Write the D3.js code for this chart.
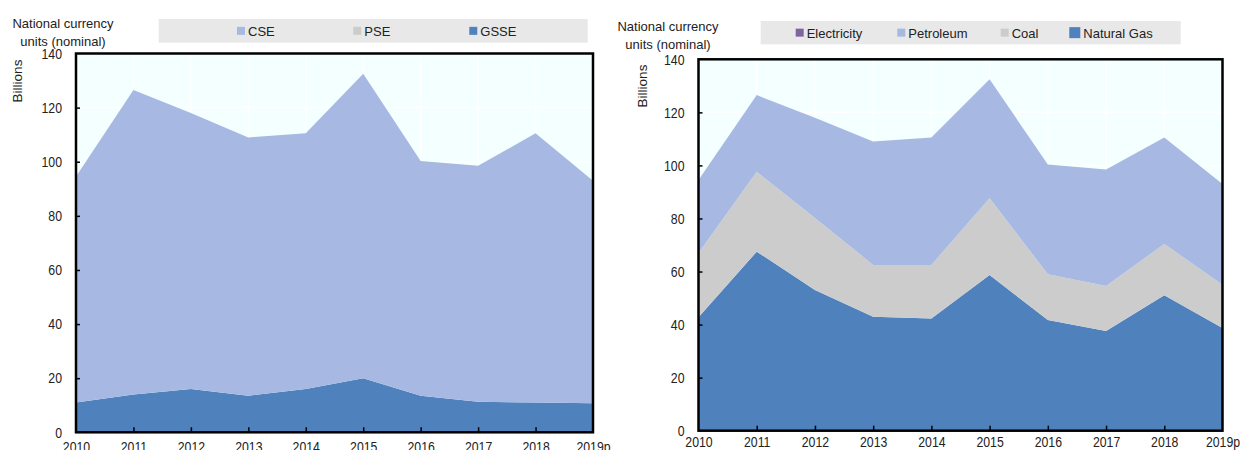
<!DOCTYPE html>
<html>
<head>
<meta charset="utf-8">
<script src="https://cdn.jsdelivr.net/npm/d3@7"></script>
<style>
    body { margin: 0; background: #fff; }
    svg { display: block; font-family: "Liberation Sans", Arial, sans-serif; }
    .tick line { stroke: #000; stroke-width: 1.5; }
    .domain { display: none; }
</style>
</head>
<body>
<div id="wrapper"></div>
<script>
// values (billions)
const years = ["2010", "2011", "2012", "2013", "2014", "2015", "2016", "2017", "2018", "2019p"];
const yTicks = [0, 20, 40, 60, 80, 100, 120, 140];

// left panel: support by recipient
const gsse = [11, 14, 16, 13.5, 16, 20, 13.5, 11.3, 11, 10.7];
const pse = [0, 0, 0, 0, 0, 0, 0, 0, 0, 0];
const cse = [83.5, 112.5, 102, 95.5, 94.5, 112.5, 86.8, 87.2, 99.5, 82.3];

// right panel: support by fuel
const naturalGas = [42.8, 67.5, 53, 43, 42.3, 58.7, 41.7, 37.6, 51.1, 38.7];
const coal = [24.2, 30.1, 27.2, 19.5, 20.2, 28.9, 17.3, 16.9, 19.3, 16.3];
const petroleum = [27.5, 28.9, 37.8, 46.5, 48, 44.9, 41.3, 44, 40.1, 38];
const electricity = [0, 0, 0, 0, 0, 0, 0, 0, 0, 0];

const colors = {
    CSE: "#a7b9e3", PSE: "#cccccc", GSSE: "#4f81bd",
    Electricity: "#8064a2", Petroleum: "#a7b9e3", Coal: "#cccccc", "Natural Gas": "#4f81bd"
};

let wSvg = 1243;
let hSvg = 450;

let svg = d3.select("#wrapper")
    .append("svg")
    .attr("width", wSvg)
    .attr("height", hSvg);

function drawPanel(p) {
    let g = svg.append("g");

    let xScale = d3.scalePoint().domain(years).range([p.x0, p.x1]);
    let yScale = d3.scaleLinear().domain([0, 140]).range([p.y1, p.y0]);

    // plot background
    g.append("rect")
        .attr("x", p.x0).attr("y", p.y0)
        .attr("width", p.x1 - p.x0).attr("height", p.y1 - p.y0)
        .attr("fill", "#f4ffff");

    // white grid
    g.selectAll(".vgrid").data(years).enter().append("line")
        .attr("x1", d => xScale(d)).attr("x2", d => xScale(d))
        .attr("y1", p.y0).attr("y2", p.y1)
        .attr("stroke", "#fff").attr("stroke-width", 1.5);
    g.selectAll(".hgrid").data(yTicks).enter().append("line")
        .attr("x1", p.x0).attr("x2", p.x1)
        .attr("y1", d => yScale(d)).attr("y2", d => yScale(d))
        .attr("stroke", "#fff").attr("stroke-width", 1.5);

    // stacked areas
    let table = years.map((yr, i) => {
        let row = { year: yr };
        p.series.forEach(s => { row[s.name] = s.values[i]; });
        return row;
    });
    let stacked = d3.stack().keys(p.series.map(s => s.name))(table);

    let area = d3.area()
        .x(d => xScale(d.data.year))
        .y0(d => yScale(d[0]))
        .y1(d => yScale(d[1]));

    g.selectAll(".layer").data(stacked).enter().append("path")
        .attr("d", area)
        .attr("fill", d => colors[d.key]);

    // axes
    let yAxis = g.append("g")
        .attr("transform", `translate(${p.x0},0)`)
        .call(d3.axisLeft(yScale).tickValues(yTicks).tickSize(-4).tickPadding(14));
    let xAxis = g.append("g")
        .attr("transform", `translate(0,${p.y1})`)
        .call(d3.axisBottom(xScale).tickSize(-5).tickPadding(p.labelPad));

    yAxis.selectAll("text")
        .attr("font-size", 15).attr("fill", "#222")
        .attr("transform", "scale(0.82,1)")
        .attr("x", -14 / 0.82);
    xAxis.selectAll("text")
        .attr("font-size", 15).attr("fill", "#222")
        .attr("transform", "scale(0.82,1)");
    xAxis.selectAll(".tick").filter(d => d === "2010" || d === "2019p").select("line").remove();
    yAxis.selectAll(".tick").filter(d => d === 0 || d === 140).select("line").remove();

    // frame
    g.append("rect")
        .attr("x", p.x0).attr("y", p.y0)
        .attr("width", p.x1 - p.x0).attr("height", p.y1 - p.y0)
        .attr("fill", "none").attr("stroke", "#000").attr("stroke-width", 2.5);

    // unit labels
    g.append("text")
        .attr("x", p.unitX).attr("y", p.unitY)
        .attr("text-anchor", "middle").attr("font-size", 13).attr("fill", "#222")
        .text("National currency");
    g.append("text")
        .attr("x", p.unitX).attr("y", p.unitY + 18)
        .attr("text-anchor", "middle").attr("font-size", 13).attr("fill", "#222")
        .text("units (nominal)");
    g.append("text")
        .attr("transform", `translate(${p.billX},${p.billY}) rotate(-90)`)
        .attr("text-anchor", "middle").attr("font-size", 13.5).attr("fill", "#222")
        .text("Billions");

    // legend
    g.append("rect")
        .attr("x", p.legX0).attr("y", p.legY0)
        .attr("width", p.legX1 - p.legX0).attr("height", p.legY1 - p.legY0)
        .attr("fill", "#e8e8e8");

    let legendItems = p.series.slice().reverse();
    legendItems.forEach((s, i) => {
        let lx = p.legX0 + p.legOffsets[i];
        let sz = s.box;
        let cy = (p.legY0 + p.legY1) / 2;
        g.append("rect")
            .attr("x", lx).attr("y", cy - sz / 2)
            .attr("width", sz).attr("height", sz)
            .attr("fill", colors[s.name]);
        g.append("text")
            .attr("x", lx + sz + 3).attr("y", cy + 5)
            .attr("font-size", 13).attr("fill", "#222")
            .text(s.name);
    });
}

drawPanel({
    x0: 76, x1: 593, y0: 53.5, y1: 432.3, labelPad: 9,
    series: [
        { name: "GSSE", values: gsse, box: 8 },
        { name: "PSE", values: pse, box: 8 },
        { name: "CSE", values: cse, box: 8 }
    ],
    unitX: 63, unitY: 28, billX: 22, billY: 81,
    legX0: 158.7, legX1: 587.7, legY0: 19, legY1: 42.7,
    legOffsets: [78.3, 194.6, 310.6]
});

drawPanel({
    x0: 698.5, x1: 1222.5, y0: 59.3, y1: 430.7, labelPad: 5.5,
    series: [
        { name: "Natural Gas", values: naturalGas, box: 11 },
        { name: "Coal", values: coal, box: 8 },
        { name: "Petroleum", values: petroleum, box: 8 },
        { name: "Electricity", values: electricity, box: 8 }
    ],
    unitX: 668, unitY: 30.7, billX: 647, billY: 86,
    legX0: 760.7, legX1: 1180.7, legY0: 21, legY1: 44.3,
    legOffsets: [35, 136.6, 240, 308.6]
});
</script>
</body>
</html>
